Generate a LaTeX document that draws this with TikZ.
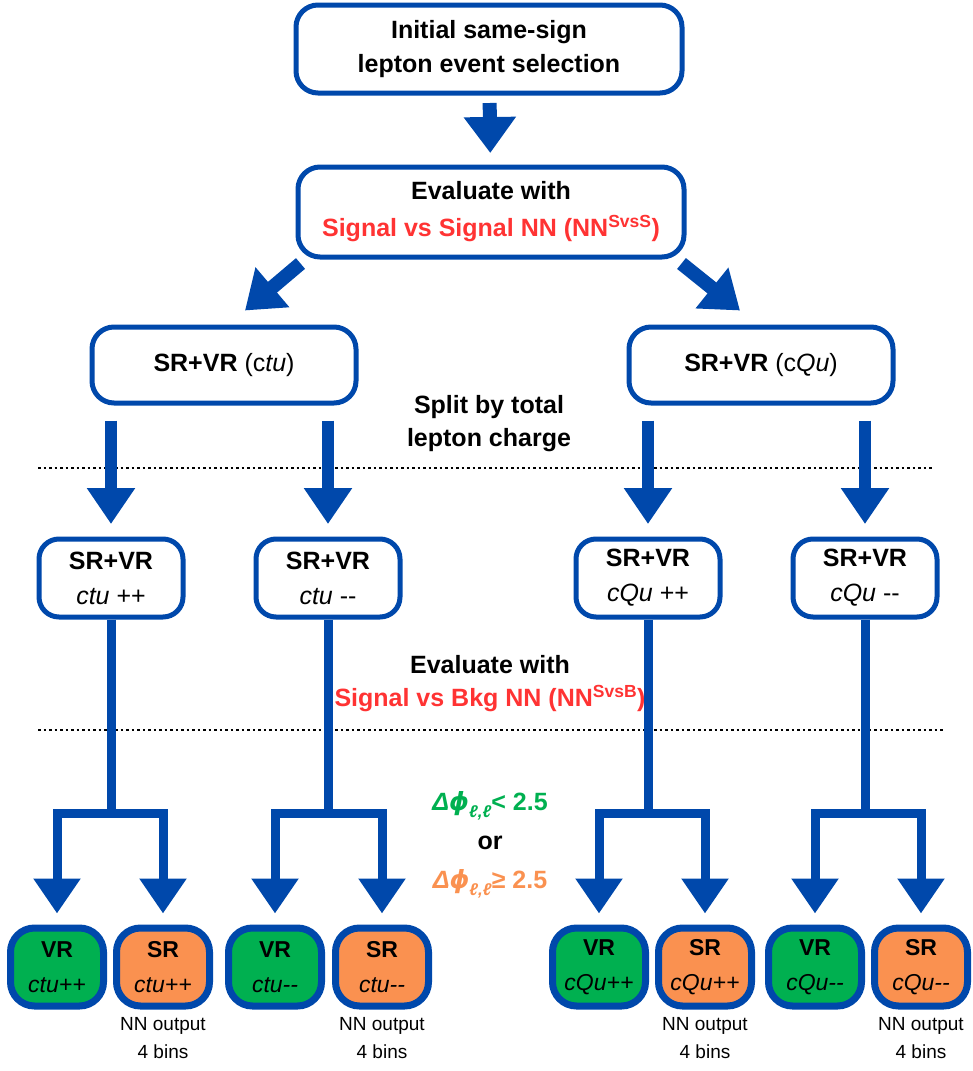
\documentclass[tikz,border=0pt]{standalone}
\usepackage{fontspec}
\setmainfont{Liberation Sans}
\newfontfamily\greekfont{DejaVu Sans}
\usetikzlibrary{arrows.meta,calc,positioning}
\definecolor{flowblue}{RGB}{0,72,171}
\definecolor{vrgreen}{RGB}{0,176,80}
\definecolor{srorange}{RGB}{250,145,80}
\definecolor{nnred}{RGB}{255,51,51}
\newcommand{\dphill}{\textit{Δ{\greekfont ϕ}}\raisebox{-7pt}{\fontsize{17}{17}\selectfont\textit{ℓ,ℓ}}}

\begin{document}
\begin{tikzpicture}[x=1pt, y=-1pt,
        stagebox/.style={rectangle, draw=flowblue, line width=5pt, rounded corners=22pt, fill=white,
                     align=center, inner sep=0pt, font=\fontsize{25}{35}\selectfont},
        chargebox/.style={stagebox, minimum width=144pt, minimum height=78pt, rounded corners=20pt},
        regionbox/.style={rectangle, draw=flowblue, line width=7pt, rounded corners=24pt,
                     minimum width=93pt, minimum height=78pt, align=center, inner sep=0pt,
                     font=\fontsize{23}{35}\selectfont},
        bigarrow/.style={draw=flowblue, line width=14pt, -{Triangle[width=50pt,length=36pt]}},
        midarrow/.style={draw=flowblue, line width=12pt, -{Triangle[width=46pt,length=36pt]}},
        splitarrow/.style={draw=flowblue, line width=9pt, line join=miter, -{Triangle[width=45pt,length=35pt]}},
        joinline/.style={draw=flowblue, line width=9pt},
        cutline/.style={draw=black, line width=2.5pt, dash pattern=on 2.5pt off 3pt},
        note/.style={align=center, font=\fontsize{25}{33}\selectfont\bfseries}
    ]
        \useasboundingbox (0,0) rectangle (973,1071);

        % Top of the flow
        \node[stagebox, minimum width=386pt, minimum height=88pt, font=\fontsize{25}{34}\selectfont\bfseries]
            (initbox) at (489,49) {Initial same-sign\\lepton event selection};
        \node[stagebox, minimum width=386pt, minimum height=90pt, font=\fontsize{25}{37}\selectfont\bfseries]
            (evalbox) at (491,212) {Evaluate with\\\textcolor{nnred}{Signal vs Signal NN (NN\textsuperscript{SvsS})}};

        % SR+VR per signal
        \node[stagebox, minimum width=264pt, minimum height=76pt] (ctubox) at (224,365) {\textbf{SR+VR} (c\textit{tu})};
        \node[stagebox, minimum width=264pt, minimum height=76pt] (cqubox) at (761,365) {\textbf{SR+VR} (c\textit{Qu})};

        % Split by charge
        \node[chargebox] (ctupp) at (111,578) {\textbf{SR+VR}\\\textit{ctu} ++};
        \node[chargebox] (ctumm) at (328,578) {\textbf{SR+VR}\\\textit{ctu} {-}{-}};
        \node[chargebox] (cqupp) at (648,578) {\textbf{SR+VR}\\\textit{cQu} ++};
        \node[chargebox] (cqumm) at (865,578) {\textbf{SR+VR}\\\textit{cQu} {-}{-}};

        % Final regions
        \node[regionbox, fill=vrgreen] (vrctupp) at (57,967) {\textbf{VR}\\\textit{ctu++}};
        \node[regionbox, fill=srorange] (srctupp) at (163,967) {\textbf{SR}\\\textit{ctu++}};
        \node[regionbox, fill=vrgreen] (vrctumm) at (275,967) {\textbf{VR}\\\textit{ctu{-}{-}}};
        \node[regionbox, fill=srorange] (srctumm) at (382,967) {\textbf{SR}\\\textit{ctu{-}{-}}};
        \node[regionbox, fill=vrgreen] (vrcqupp) at (599,967) {\textbf{VR}\\\textit{cQu++}};
        \node[regionbox, fill=srorange] (srcqupp) at (705,967) {\textbf{SR}\\\textit{cQu++}};
        \node[regionbox, fill=vrgreen] (vrcqumm) at (815,967) {\textbf{VR}\\\textit{cQu{-}{-}}};
        \node[regionbox, fill=srorange] (srcqumm) at (921,967) {\textbf{SR}\\\textit{cQu{-}{-}}};

        % Side texts
        \node[note] (splittext) at (489,424) {Split by total\\lepton charge};
        \node[note] (bkgtext) at (490,684) {Evaluate with\\\textcolor{nnred}{Signal vs Bkg NN (NN\textsuperscript{SvsB})}};
        \node[note, font=\fontsize{25}{39}\selectfont\bfseries] (dphitext) at (490,845)
            {\textcolor{vrgreen}{\dphill< 2.5}\\or\\\textcolor{srorange}{\dphill≥ 2.5}};
        \foreach \sr in {srctupp,srctumm,srcqupp,srcqumm}
            \node[align=center, font=\fontsize{19}{28}\selectfont, below=4pt of \sr] {NN output\\4 bins};

        % Dotted cuts
        \draw[cutline] (38,468) -- (932,468);
        \draw[cutline] (38,730) -- (945,730);

        % Arrows down the flow
        \draw[bigarrow, shorten <=7.5pt, shorten >=11.5pt] (initbox) -- (evalbox);
        \draw[bigarrow] ($(evalbox.south west)+(5,4)$) -- ($(ctubox.north)+(21,-14)$);
        \draw[bigarrow] ($(evalbox.south east)+(-5,4)$) -- ($(cqubox.north)+(-21,-14)$);

        \draw[midarrow, shorten <=15pt, shorten >=12.5pt] (ctupp.north |- ctubox.south) -- (ctupp.north);
        \draw[midarrow, shorten <=15pt, shorten >=12.5pt] (ctumm.north |- ctubox.south) -- (ctumm.north);
        \draw[midarrow, shorten <=15pt, shorten >=12.5pt] (cqupp.north |- cqubox.south) -- (cqupp.north);
        \draw[midarrow, shorten <=15pt, shorten >=12.5pt] (cqumm.north |- cqubox.south) -- (cqumm.north);

        % Split into VR and SR
        \foreach \ch/\vr/\sr in {ctupp/vrctupp/srctupp, ctumm/vrctumm/srctumm,
                                 cqupp/vrcqupp/srcqupp, cqumm/vrcqumm/srcqumm} {
            \path (\ch.south) ++(0,194) coordinate (j\ch);
            \draw[joinline] (\ch.south) -- (j\ch);
            \draw[splitarrow, shorten >=11pt] (j\ch) -| (\vr.north);
            \draw[splitarrow, shorten >=11pt] (j\ch) -| (\sr.north);
        }
    \end{tikzpicture}
\end{document}
